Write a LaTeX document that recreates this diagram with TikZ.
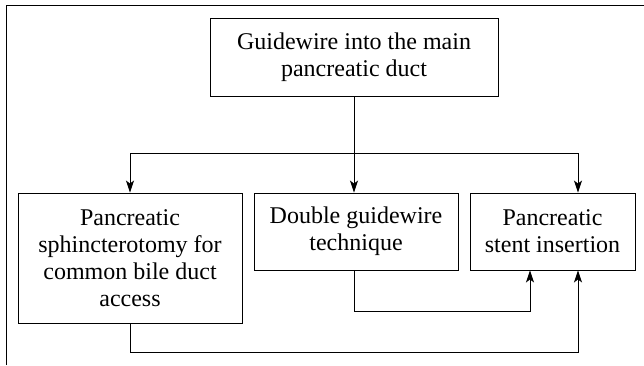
\documentclass[tikz,border=0pt]{standalone}
\usepackage{fontspec}
\setmainfont{Liberation Serif}
\usetikzlibrary{arrows.meta}
\begin{document}
\begin{tikzpicture}[x=1pt,y=1pt,
  box/.style={draw, line width=0.9pt, align=center, inner sep=0pt,
    font=\fontsize{24}{27}\selectfont},
  conn/.style={line width=0.9pt},
  arr/.style={conn, -{Stealth[length=12pt,width=8pt,inset=3pt]}}]
\useasboundingbox (0,0) rectangle (644,-365);
\draw[line width=0.9pt] (6,-365) -- (6,-5) -- (644,-5);
\node[box, minimum width=288pt, minimum height=78pt] (top) at (354,-57) {Guidewire into the main\\pancreatic duct};
\node[box, minimum width=224pt, minimum height=130pt] (left) at (130,-258) {Pancreatic\\sphincterotomy for\\common bile duct\\access};
\node[box, minimum width=204pt, minimum height=77pt] (mid) at (356,-231.5) {Double guidewire\\technique};
\node[box, minimum width=165pt, minimum height=77pt] (right) at (552.5,-231.5) {Pancreatic\\stent insertion};
\coordinate (jc) at (354,-153);
\coordinate (jl) at (130,-153);
\coordinate (jr) at (578,-153);
\coordinate (b2) at (354,-311);
\coordinate (b1) at (130,-352);
\draw[conn] (top.south) -- (jc);
\draw[conn] (jl) -- (jr);
\draw[arr] (jl) -- (jl |- left.north);
\draw[arr] (jc) -- (jc |- mid.north);
\draw[arr] (jr) -- (jr |- right.north);
\draw[arr] (b2 |- mid.south) -- (b2) -| ([xshift=-22.5pt]right.south);
\draw[arr] (left.south) -- (b1) -| ([xshift=25.5pt]right.south);
\end{tikzpicture}
\end{document}
